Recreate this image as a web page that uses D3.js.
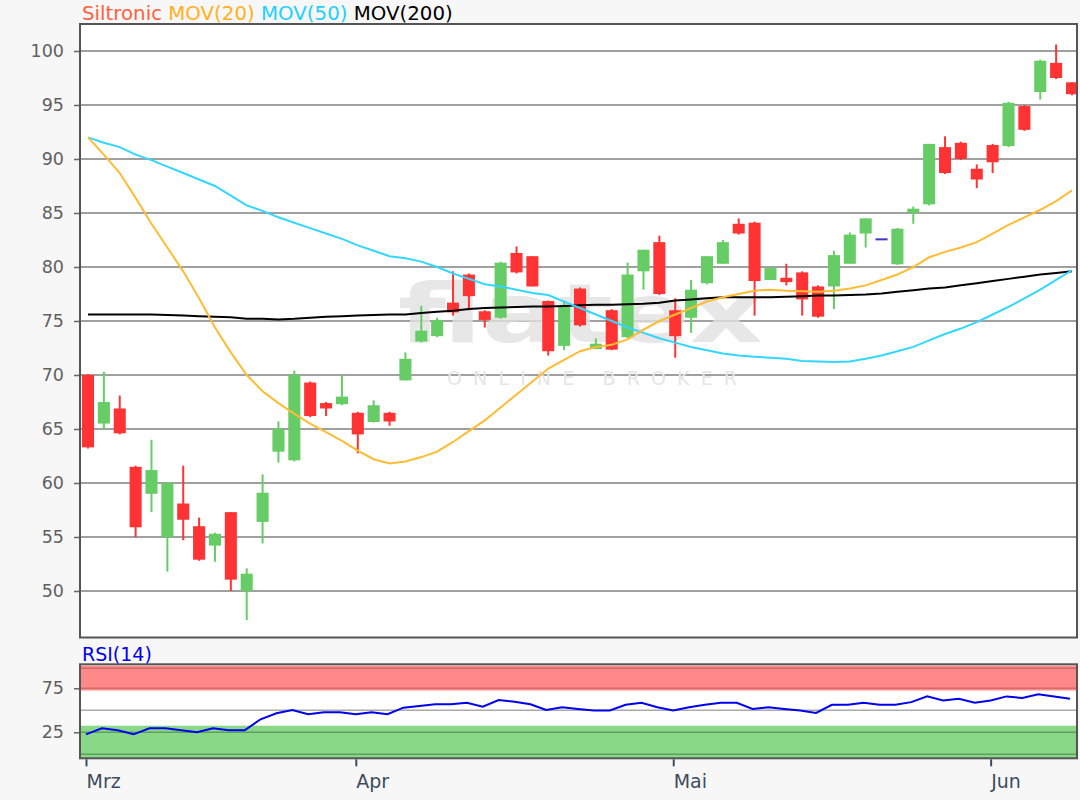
<!DOCTYPE html>
<html><head><meta charset="utf-8">
<script src="https://cdn.jsdelivr.net/npm/d3@7/dist/d3.min.js"></script>
<style>html,body{margin:0;padding:0;background:#f7f7f7;}svg{display:block;}</style>
</head><body>
<svg id="c" width="1080" height="800"></svg>
<script>
// ---- data ----
const opens  = [70.0,65.5,66.9,61.5,59.0,55.0,58.1,56.0,54.2,57.3,50.0,56.4,62.9,62.1,69.3,67.4,67.3,66.5,65.65,66.5,69.5,73.1,73.6,76.7,79.3,75.9,75.3,81.3,81.0,76.85,72.7,78.0,72.4,76.0,73.5,79.6,82.3,76.0,75.3,78.5,80.3,84.0,84.1,78.8,79.0,79.5,78.2,78.2,80.3,83.1,82.56,80.25,85.0,85.8,91.1,91.5,89.1,91.3,91.2,94.9,96.2,98.9,97.1];
const highs  = [70.1,70.3,68.1,61.6,64.0,60.1,61.6,56.8,55.4,57.3,52.1,60.8,65.7,70.4,69.4,67.5,70.0,66.6,67.65,66.6,72.1,76.4,75.3,79.6,79.4,76.0,80.5,81.9,81.0,76.9,76.9,78.1,73.4,76.1,80.4,81.6,82.9,77.1,78.8,81.0,82.5,84.5,84.2,80.0,80.3,79.6,78.3,81.5,83.2,84.5,82.56,83.6,85.6,91.4,92.1,91.6,89.5,91.4,95.3,95.0,99.2,100.6,97.1];
const lows   = [63.2,64.9,64.5,55.0,57.3,51.8,54.7,52.8,52.7,50.0,47.3,54.4,61.9,62.0,66.1,66.2,67.2,62.75,65.6,65.3,69.5,73.0,73.5,75.5,76.0,74.4,75.2,79.4,78.2,71.8,72.3,74.5,72.4,72.3,73.4,77.9,77.4,71.6,73.9,78.4,80.3,83.0,75.5,78.8,78.3,75.5,75.3,76.1,80.3,81.8,82.56,80.2,84.0,85.7,88.6,89.9,87.3,88.7,91.1,92.6,95.5,97.4,95.9];
const closes = [63.3,67.5,64.6,55.9,61.2,60.0,56.6,52.9,55.3,51.05,51.6,59.1,65.0,70.0,66.2,66.9,68.0,64.5,67.2,65.7,71.5,74.1,75.1,75.8,77.3,75.1,80.4,79.5,78.2,72.2,76.4,74.6,72.9,72.35,79.3,81.6,77.5,73.6,77.9,81.0,82.3,83.1,78.7,79.9,78.6,77.0,75.4,81.1,83.0,84.5,82.56,83.55,85.4,91.4,88.7,90.0,88.1,89.7,95.2,92.7,99.1,97.5,96.0];
const mov20  = [92.0,90.4,88.7,86.4,84.0,81.8,79.6,77.1,74.4,72.1,70.0,68.5,67.4,66.4,65.5,64.7,63.9,63.0,62.2,61.8,62.0,62.4,62.9,63.8,64.8,65.8,67.0,68.2,69.4,70.6,71.4,72.2,72.6,72.8,73.3,74.2,75.0,75.6,76.2,76.8,77.2,77.5,77.8,77.9,77.8,77.75,77.7,77.8,78.0,78.3,78.8,79.3,80.0,80.9,81.4,81.8,82.3,83.1,83.9,84.6,85.3,86.1,87.1];
const mov50  = [92.0,91.5,91.1,90.4,89.9,89.3,88.7,88.1,87.5,86.6,85.7,85.2,84.6,84.1,83.6,83.1,82.6,82.0,81.5,81.0,80.8,80.5,80.0,79.4,78.9,78.4,78.2,77.9,77.6,77.4,76.8,76.2,75.6,75.0,74.4,73.9,73.4,73.0,72.6,72.3,72.0,71.8,71.7,71.6,71.5,71.3,71.25,71.2,71.25,71.5,71.8,72.2,72.6,73.2,73.8,74.3,74.9,75.6,76.3,77.1,77.9,78.8,79.7];
const mov200 = [75.6,75.6,75.6,75.6,75.6,75.55,75.5,75.45,75.4,75.35,75.2,75.2,75.15,75.2,75.3,75.4,75.45,75.5,75.55,75.6,75.6,75.75,75.85,75.95,76.1,76.2,76.25,76.3,76.35,76.35,76.4,76.45,76.5,76.5,76.55,76.6,76.7,76.9,77.0,77.1,77.2,77.2,77.2,77.2,77.25,77.3,77.35,77.35,77.4,77.45,77.55,77.7,77.85,78.0,78.1,78.3,78.5,78.7,78.9,79.1,79.3,79.45,79.6];
const rsi14  = [22.7,29.5,27.3,22.7,29.5,29.5,27.3,25.0,29.5,27.3,27.3,39.8,46.6,50.3,45.5,47.7,47.7,45.5,47.7,45.5,53.0,54.9,56.8,56.8,58.6,54.1,61.7,59.8,56.8,50.3,53.5,51.6,49.7,49.7,56.2,58.5,53.5,49.7,53.5,56.2,58.5,58.5,51.6,53.5,51.6,49.7,47.0,56.2,56.2,58.5,56.2,56.2,59.3,65.8,61.2,63.1,58.5,61.2,65.8,63.9,68.1,65.8,63.1];
const priceTicks = [50,55,60,65,70,75,80,85,90,95,100];
const rsiTicks = [25,75];
const monthLabels = ["Mrz","Apr","Mai","Jun"];
const monthIndex = [0,17,37,57];
const legendItems = ["Siltronic","MOV(20)","MOV(50)","MOV(200)"];
const rsiZones = [[72.5,100.7],[-4.3,32.5]];
const rsiZoneLines = [[97.7,75],[25,0]];

// ---- layout ----
const svg = d3.select("#c");
const L = 80, R = 1077, T = 24, B = 637.5;
const RT = 664.3, RB = 758.3;
const font = "'DejaVu Sans', sans-serif";
const cRed = "#ff3333", cGreen = "#66cc66", cDoji = "#4433cc";

const x = d3.scaleLinear().domain([0, 62]).range([88, 1072]);
const y = d3.scaleLinear().domain([50, 100]).range([591, 51]);
const yr = d3.scaleLinear().domain([0, 100]).range([754.3, 666.3]);

// main plot background
svg.append("rect").attr("x", L).attr("y", T).attr("width", R - L).attr("height", B - T).attr("fill", "#fff");

// gridlines + y axis
const yAxis = d3.axisLeft(y).tickValues(priceTicks).tickSize(6).tickPadding(10);
const ga = svg.append("g").attr("transform", `translate(${L},0)`).call(yAxis);
ga.select(".domain").remove();
ga.selectAll(".tick line").attr("stroke", "#666").attr("stroke-width", 1.5);
ga.selectAll(".tick text").attr("fill", "#606060").attr("font-family", font).attr("font-size", 17.5);
svg.append("g").selectAll("line").data(priceTicks).join("line")
  .attr("x1", L).attr("x2", R).attr("y1", d => y(d)).attr("y2", d => y(d))
  .attr("stroke", "#a0a0a0").attr("stroke-width", 2);

// watermark
svg.append("text").attr("x", 398).attr("y", 342).attr("font-family", font).attr("font-weight", "bold")
  .attr("font-size", 82).attr("textLength", 365).attr("lengthAdjust", "spacingAndGlyphs")
  .attr("fill", "#e2e2e2").attr("opacity", 0.8).text("flatex");
svg.append("text").attr("x", 447).attr("y", 385).attr("font-family", font)
  .attr("font-size", 19).attr("textLength", 290).attr("lengthAdjust", "spacing")
  .attr("fill", "#e6e6e6").text("ONLINE BROKER");

// candles
const idx = d3.range(opens.length);
const bw = (x(1) - x(0)) * 0.76;
const colorOf = i => closes[i] > opens[i] ? cGreen : (closes[i] < opens[i] ? cRed : cDoji);
const gc = svg.append("g");
gc.selectAll("line.w").data(idx).join("line").attr("class", "w")
  .attr("x1", i => x(i)).attr("x2", i => x(i))
  .attr("y1", i => y(highs[i])).attr("y2", i => y(lows[i]))
  .attr("stroke", colorOf).attr("stroke-width", 2);
gc.selectAll("rect").data(idx).join("rect")
  .attr("x", i => x(i) - bw / 2).attr("width", bw)
  .attr("y", i => closes[i] === opens[i] ? y(opens[i]) - 1 : y(Math.max(opens[i], closes[i])))
  .attr("height", i => closes[i] === opens[i] ? 2 : Math.abs(y(opens[i]) - y(closes[i])))
  .attr("fill", colorOf);

// moving averages
const line = arr => d3.line().x((d, i) => x(i)).y(d => y(d))(arr);
svg.append("path").attr("d", line(mov200)).attr("fill", "none").attr("stroke", "#000").attr("stroke-width", 2);
svg.append("path").attr("d", line(mov50)).attr("fill", "none").attr("stroke", "#33d6ff").attr("stroke-width", 2);
svg.append("path").attr("d", line(mov20)).attr("fill", "none").attr("stroke", "#ffbb33").attr("stroke-width", 2);

// frame
svg.append("rect").attr("x", L).attr("y", T).attr("width", R - L).attr("height", B - T)
  .attr("fill", "none").attr("stroke", "#555").attr("stroke-width", 2);

// legend
const legendColors = ["#ff6040", "#ffb020", "#22d0ff", "#000"];
const lt = svg.append("text").attr("x", 82).attr("y", 20).attr("font-family", font).attr("font-size", 19.8);
legendItems.forEach((s, i) => lt.append("tspan").attr("fill", legendColors[i]).text((i ? " " : "") + s));

// RSI panel
svg.append("rect").attr("x", L).attr("y", RT).attr("width", R - L).attr("height", RB - RT).attr("fill", "#fff");
const zoneFill = ["#ff8888", "#88d888"], zoneLine = ["#d26a6a", "#5f9f5f"];
rsiZones.forEach((z, k) => {
  svg.append("rect").attr("x", L).attr("width", R - L)
    .attr("y", yr(z[1])).attr("height", yr(z[0]) - yr(z[1])).attr("fill", zoneFill[k]);
  rsiZoneLines[k].forEach(v => svg.append("line").attr("x1", L).attr("x2", R)
    .attr("y1", yr(v)).attr("y2", yr(v)).attr("stroke", zoneLine[k]).attr("stroke-width", 1.5));
});
svg.append("line").attr("x1", L).attr("x2", R).attr("y1", yr(50)).attr("y2", yr(50))
  .attr("stroke", "#aaa").attr("stroke-width", 1.5);
const ra = svg.append("g").attr("transform", `translate(${L},0)`)
  .call(d3.axisLeft(yr).tickValues(rsiTicks).tickSize(6).tickPadding(10));
ra.select(".domain").remove();
ra.selectAll(".tick line").attr("stroke", "#666").attr("stroke-width", 1.5);
ra.selectAll(".tick text").attr("fill", "#606060").attr("font-family", font).attr("font-size", 17.5);
svg.append("path").attr("d", d3.line().x((d, i) => x(i) - 2).y(d => yr(d))(rsi14))
  .attr("fill", "none").attr("stroke", "#0000ee").attr("stroke-width", 2);
svg.append("rect").attr("x", L).attr("y", RT).attr("width", R - L).attr("height", RB - RT)
  .attr("fill", "none").attr("stroke", "#555").attr("stroke-width", 2);
svg.append("text").attr("x", 82).attr("y", 661).attr("font-family", font).attr("font-size", 19)
  .attr("fill", "#0000ee").text("RSI(14)");

// x axis (months)
const xa = svg.append("g").attr("transform", `translate(0,${RB + 1})`)
  .call(d3.axisBottom(d3.scaleLinear().domain(x.domain()).range(x.range().map(v => v - 2)))
    .tickValues(monthIndex).tickFormat((d, i) => monthLabels[i]).tickSize(7).tickPadding(8));
xa.select(".domain").remove();
xa.selectAll(".tick line").attr("stroke", "#3c4c60").attr("stroke-width", 2);
xa.selectAll(".tick text").attr("fill", "#3c4c60").attr("font-family", font).attr("font-size", 19)
  .attr("text-anchor", "start");
</script>
</body></html>
